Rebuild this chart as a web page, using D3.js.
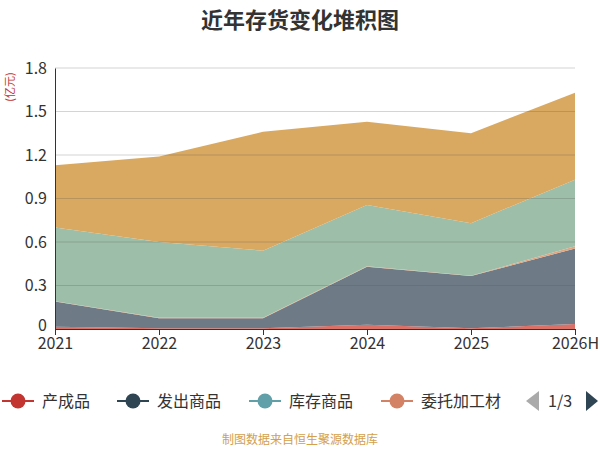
<!doctype html>
<html>
<head>
<meta charset="utf-8" />
<script src="https://cdn.jsdelivr.net/npm/d3@7/dist/d3.min.js"></script>
<style>
	body { margin: 0; background: #fff; font-family: "Noto Sans CJK SC", sans-serif; }
</style>
</head>
<body>
<svg id="chart" width="600" height="450"></svg>
<script>
const years = ['2021', '2022', '2023', '2024', '2025', '2026H'];
const seriesNames = ['产成品', '发出商品', '委托加工物资', '库存商品', '原材料'];
// values in 亿元, stacked bottom to top
const finished = [0.015, 0.005, 0.005, 0.03, 0.005, 0.035];
const shipped = [0.175, 0.07, 0.07, 0.40, 0.36, 0.52];
const outsourced = [0.002, 0.002, 0.002, 0.003, 0.003, 0.015];
const stock = [0.508, 0.523, 0.463, 0.422, 0.362, 0.46];
const raw = [0.43, 0.59, 0.82, 0.575, 0.62, 0.60];
const yTicks = [0, 0.3, 0.6, 0.9, 1.2, 1.5, 1.8];

const fills = ['#dc6f66', '#6e7b87', '#e3a57f', '#9dbea9', '#d9a962'];
const legendItems = [
	{ name: '产成品', color: '#c23531' },
	{ name: '发出商品', color: '#2f4554' },
	{ name: '库存商品', color: '#61a0a8' },
	{ name: '委托加工材', color: '#d48265' }
];

const svg = d3.select('#chart');
const m = { left: 55, right: 575, top: 68, bottom: 329 };

const x = d3.scalePoint().domain(years).range([m.left, m.right]);
const y = d3.scaleLinear().domain([0, 1.8]).range([m.bottom, m.top]);

const table = years.map((yr, i) => ({ yr, s0: finished[i], s1: shipped[i], s2: outsourced[i], s3: stock[i], s4: raw[i] }));
const stacked = d3.stack().keys(['s0', 's1', 's2', 's3', 's4'])(table);

const area = d3.area().x(d => x(d.data.yr)).y0(d => y(d[0])).y1(d => y(d[1]));
svg.append('g').selectAll('path').data(stacked).join('path')
	.attr('d', area).attr('fill', (d, i) => fills[i]);

// grid over areas
svg.append('g').selectAll('line').data(yTicks.slice(1)).join('line')
	.attr('x1', m.left).attr('x2', m.right)
	.attr('y1', d => y(d)).attr('y2', d => y(d))
	.attr('stroke', '#555').attr('stroke-opacity', 0.25);

svg.append('g').attr('transform', `translate(${m.left},0)`)
	.call(d3.axisLeft(y).tickValues(yTicks).tickFormat(d => d === 0 ? '0' : d3.format('.1f')(d)).tickSize(0).tickPadding(8))
	.call(g => g.select('.domain').attr('stroke', '#333'))
	.call(g => g.selectAll('text').attr('font-size', 16).attr('fill', '#333').attr('font-family', 'Noto Sans CJK SC'))
	.call(g => g.selectAll('.tick').filter(d => d === 0).select('text').attr('dy', '0.1em'));

svg.append('g').attr('transform', `translate(0,${m.bottom})`)
	.call(d3.axisBottom(x).tickSize(6).tickPadding(3))
	.call(g => g.select('.domain').attr('stroke', '#333'))
	.call(g => g.selectAll('line').attr('stroke', '#333'))
	.call(g => g.selectAll('text').attr('font-size', 16).attr('fill', '#333').attr('font-family', 'Noto Sans CJK SC'));

svg.append('text').attr('x', 300).attr('y', 28).attr('text-anchor', 'middle')
	.attr('font-size', 22).attr('font-weight', 'bold').attr('fill', '#333').text('近年存货变化堆积图');

svg.append('text').attr('transform', 'translate(14,87) rotate(-90)').attr('text-anchor', 'middle')
	.attr('font-size', 11).attr('fill', '#c23531').text('(亿元)');

// legend
const lg = svg.append('g');
const lx = [2, 117, 249, 381];
legendItems.forEach((it, i) => {
	const g = lg.append('g').attr('transform', `translate(${lx[i]},401)`);
	g.append('line').attr('x1', 0).attr('x2', 32).attr('stroke', it.color).attr('stroke-width', 2);
	g.append('circle').attr('cx', 16).attr('r', 7.5).attr('fill', it.color);
	g.append('text').attr('x', 40).attr('y', 6).attr('font-size', 16).attr('fill', '#333').text(it.name);
});
svg.append('rect').attr('x', 514).attr('y', 386).attr('width', 32).attr('height', 28).attr('fill', '#fff');
svg.append('path').attr('d', 'M539,391 L539,411 L526,401 Z').attr('fill', '#aaa');
svg.append('text').attr('x', 548).attr('y', 407).attr('font-size', 16).attr('fill', '#333').text('1/3');
svg.append('path').attr('d', 'M586,391 L586,411 L598,401 Z').attr('fill', '#2f4554');

svg.append('text').attr('x', 300).attr('y', 444).attr('text-anchor', 'middle')
	.attr('font-size', 12).attr('fill', '#d4a04a').text('制图数据来自恒生聚源数据库');
</script>
</body>
</html>
